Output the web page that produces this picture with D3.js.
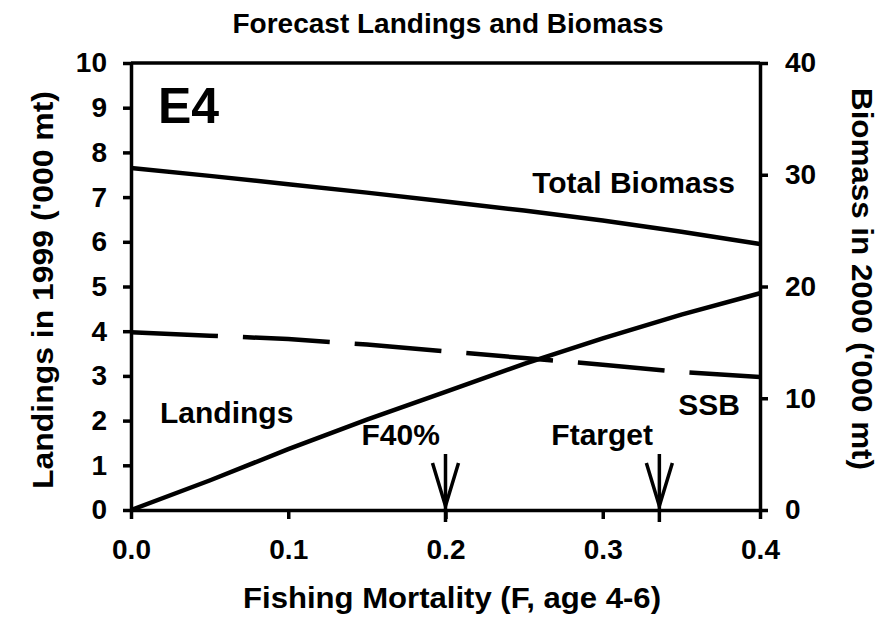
<!DOCTYPE html>
<html>
<head>
<meta charset="utf-8">
<script src="https://cdnjs.cloudflare.com/ajax/libs/d3/7.8.5/d3.min.js"></script>
<style>
	body { margin: 0; background: #fff; }
	text { font-family: "Liberation Sans", Arial, sans-serif; font-weight: bold; fill: #000; }
</style>
</head>
<body>
<div id="container"></div>
<script>
//Values (F on x, landings on left axis, biomass on right axis)
var fValues = [0, 0.05, 0.1, 0.15, 0.2, 0.25, 0.3, 0.35, 0.4];
var landings = [0, 0.66, 1.36, 2.02, 2.64, 3.27, 3.84, 4.37, 4.85];
var totalBiomass = [30.6, 29.9, 29.15, 28.4, 27.6, 26.8, 25.9, 24.9, 23.8];
var ssb = [15.9, 15.6, 15.3, 14.8, 14.2, 13.6, 13.0, 12.35, 11.9];

var xTicks = [0, 0.1, 0.2, 0.3, 0.4];
var leftTicks = [0, 1, 2, 3, 4, 5, 6, 7, 8, 9, 10];
var rightTicks = [0, 10, 20, 30, 40];

//Reference points marked with arrows
var refNames = ["F40%", "Ftarget"];
var refF = [0.2, 0.336];

function makeChart(){
	var w = 883;
	var h = 625;
	var margin = {top: 63, right: 123, bottom: 115, left: 131};
	var pw = w - margin.left - margin.right;
	var ph = h - margin.top - margin.bottom;

	var svg = d3.select('#container')
		.append("svg")
		.attr("width", w)
		.attr("height", h);

	svg.append("rect")
		.attr("width", w)
		.attr("height", h)
		.attr("fill", "#fff");

	var g = svg.append("g")
		.attr("transform", "translate(" + margin.left + "," + margin.top + ")");

	var x = d3.scaleLinear().domain([0, 0.4]).range([0, pw]);
	var yL = d3.scaleLinear().domain([0, 10]).range([ph, 0]);
	var yR = d3.scaleLinear().domain([0, 40]).range([ph, 0]);

	//Top frame line
	g.append("line")
		.attr("x1", 0).attr("x2", pw)
		.attr("y1", 0).attr("y2", 0)
		.attr("stroke", "#000")
		.attr("stroke-width", 3.5);

	//Axes
	var xAxis = g.append("g")
		.attr("transform", "translate(0," + ph + ")")
		.call(d3.axisBottom(x).tickValues(xTicks).tickFormat(d3.format(".1f"))
			.tickSize(9).tickSizeOuter(0).tickPadding(20));

	var leftAxis = g.append("g")
		.call(d3.axisLeft(yL).tickValues(leftTicks).tickFormat(d3.format("d"))
			.tickSize(8).tickSizeOuter(0).tickPadding(16));

	var rightAxis = g.append("g")
		.attr("transform", "translate(" + pw + ",0)")
		.call(d3.axisRight(yR).tickValues(rightTicks).tickFormat(d3.format("d"))
			.tickSize(8).tickSizeOuter(0).tickPadding(17));

	[xAxis, leftAxis, rightAxis].forEach(function(a){
		a.selectAll("path, line")
			.attr("stroke", "#000")
			.attr("stroke-width", 3.5);
		a.selectAll("text")
			.attr("font-size", "28px")
			.attr("fill", "#000");
	});

	//Lines
	var lineL = d3.line()
		.x(function(d, i){ return x(fValues[i]); })
		.y(function(d){ return yL(d); });
	var lineR = d3.line()
		.x(function(d, i){ return x(fValues[i]); })
		.y(function(d){ return yR(d); });

	g.append("path")
		.attr("d", lineR(totalBiomass))
		.attr("fill", "none")
		.attr("stroke", "#000")
		.attr("stroke-width", 4.5);

	g.append("path")
		.attr("d", lineR(ssb))
		.attr("fill", "none")
		.attr("stroke", "#000")
		.attr("stroke-width", 4.5)
		.attr("stroke-dasharray", "87,25");

	g.append("path")
		.attr("d", lineL(landings))
		.attr("fill", "none")
		.attr("stroke", "#000")
		.attr("stroke-width", 4.5);

	//Arrows at the reference F values
	var arrows = g.selectAll(".arrow")
		.data(refF)
		.enter()
		.append("g")
		.attr("class", "arrow")
		.attr("transform", function(d){ return "translate(" + x(d) + "," + ph + ")"; });

	arrows.append("line")
		.attr("x1", 0).attr("x2", 0)
		.attr("y1", -56).attr("y2", 12)
		.attr("stroke", "#000").attr("stroke-width", 3.5);
	arrows.append("path")
		.attr("d", "M-13,-47L0,-4L13,-47")
		.attr("fill", "none")
		.attr("stroke", "#000").attr("stroke-width", 3.5);

	//Labels inside the plot
	g.append("text").text("E4")
		.attr("x", 27).attr("y", 60)
		.attr("font-size", "50px");

	g.append("text").text("Total Biomass")
		.attr("x", 604).attr("y", 130)
		.attr("text-anchor", "end")
		.attr("font-size", "30px");

	g.append("text").text("Landings")
		.attr("x", 29).attr("y", 360)
		.attr("font-size", "30px");

	g.append("text").text("SSB")
		.attr("x", 609).attr("y", 352)
		.attr("text-anchor", "end")
		.attr("font-size", "30px");

	var refOffset = [-84, -108];
	g.selectAll(".reflabel")
		.data(refNames)
		.enter()
		.append("text")
		.attr("class", "reflabel")
		.text(function(d){ return d; })
		.attr("x", function(d, i){ return x(refF[i]) + refOffset[i]; })
		.attr("y", 382)
		.attr("font-size", "30px");

	//Titles
	svg.append("text").text("Forecast Landings and Biomass")
		.attr("x", 448).attr("y", 33)
		.attr("text-anchor", "middle")
		.attr("font-size", "28px");

	svg.append("text").text("Fishing Mortality (F, age 4-6)")
		.attr("x", 452).attr("y", 608)
		.attr("text-anchor", "middle")
		.attr("font-size", "30px")
		.attr("textLength", 418)
		.attr("lengthAdjust", "spacingAndGlyphs");

	svg.append("text").text("Landings in 1999 ('000 mt)")
		.attr("transform", "translate(53,290) rotate(-90)")
		.attr("text-anchor", "middle")
		.attr("font-size", "30px")
		.attr("textLength", 398)
		.attr("lengthAdjust", "spacingAndGlyphs");

	svg.append("text").text("Biomass in 2000 ('000 mt)")
		.attr("transform", "translate(852,279) rotate(90)")
		.attr("text-anchor", "middle")
		.attr("font-size", "30px")
		.attr("textLength", 382)
		.attr("lengthAdjust", "spacingAndGlyphs");
}

makeChart();
</script>
</body>
</html>
